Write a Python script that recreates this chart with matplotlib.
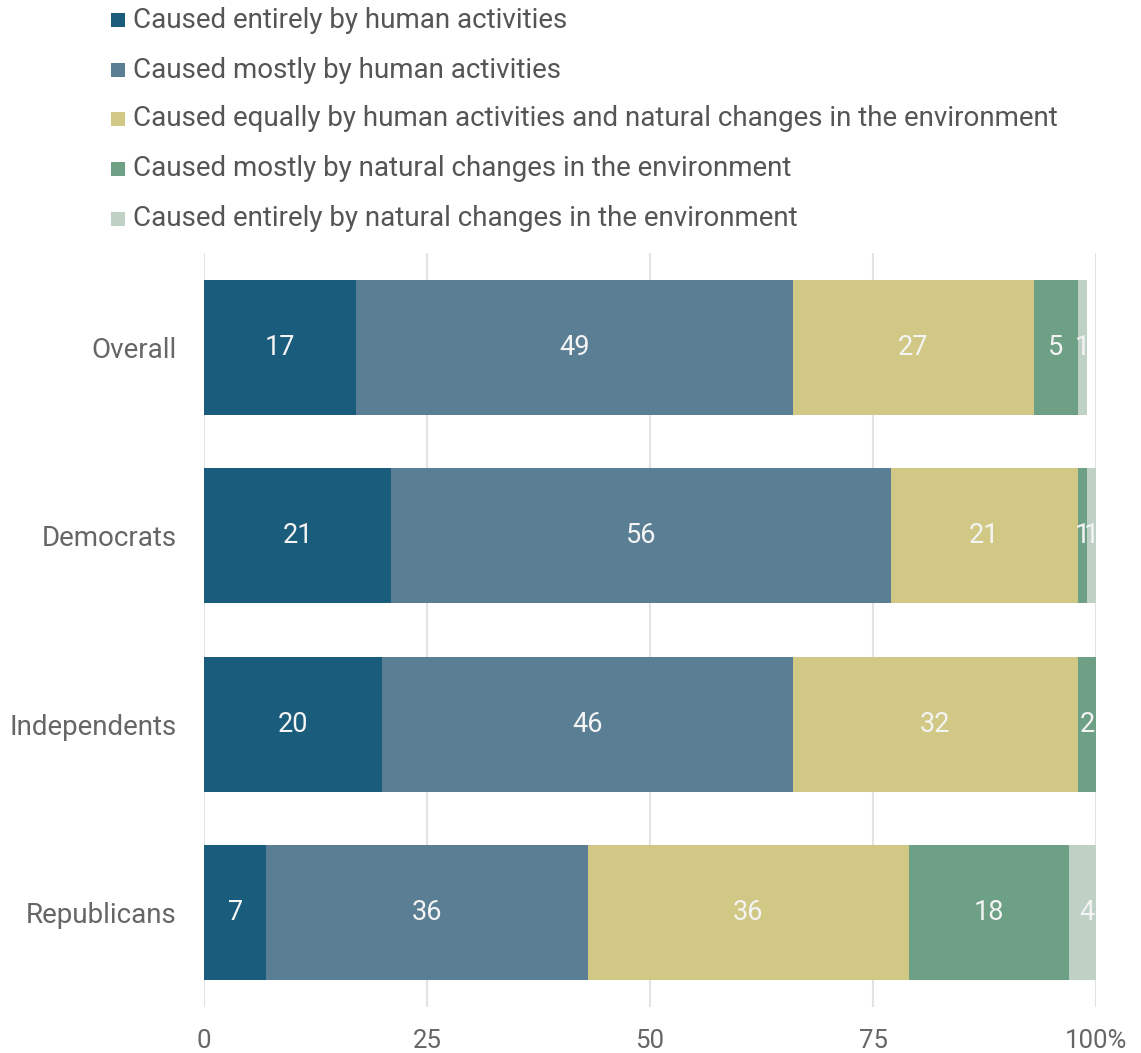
import matplotlib
matplotlib.use("Agg")
import matplotlib.pyplot as plt
from matplotlib.patches import Rectangle
import numpy as np

plt.rcParams['font.family'] = ['Roboto', 'DejaVu Sans']

categories = ["Overall", "Democrats", "Independents", "Republicans"]
series_names = [
    "Caused entirely by human activities",
    "Caused mostly by human activities",
    "Caused equally by human activities and natural changes in the environment",
    "Caused mostly by natural changes in the environment",
    "Caused entirely by natural changes in the environment",
]
entirely_human = [17, 21, 20, 7]
mostly_human = [49, 56, 46, 36]
equally = [27, 21, 32, 36]
mostly_natural = [5, 1, 2, 18]
entirely_natural = [1, 1, 0, 4]
xticks = [0, 25, 50, 75, 100]
xticklabels = ["0", "25", "50", "75", "100%"]

colors = ["#195c7b", "#5a7e94", "#d0c884", "#6da085", "#bfd0c5"]
series = [entirely_human, mostly_human, equally, mostly_natural, entirely_natural]

W, H = 1141, 1053
fig = plt.figure(figsize=(W / 100, H / 100), dpi=100)
ax = fig.add_axes([204 / W, (H - 1007) / H, (1096 - 204) / W, (1007 - 253) / H])

y = np.arange(len(categories))
left = np.zeros(len(categories))
text_gray = "#666666"
for vals, col in zip(series, colors):
    vals = np.array(vals, dtype=float)
    ax.barh(y, vals, left=left, height=0.716, color=col, edgecolor="none", zorder=2)
    for yi, (l, v) in enumerate(zip(left, vals)):
        if v > 0:
            ax.text(l + v / 2, yi, f"{int(v)}", ha="center", va="center",
                    color="#f4f4f4", fontsize=19.5, zorder=3)
    left += vals

ax.set_xlim(0, 100)
ax.set_ylim(len(categories) - 0.5, -0.5)
ax.set_yticks(y)
ax.set_yticklabels(categories, fontsize=20, color=text_gray)
ax.set_xticks(xticks)
ax.set_xticklabels(xticklabels, fontsize=18.5, color=text_gray)
ax.tick_params(axis="both", length=0)
ax.tick_params(axis="y", pad=19.5)
ax.tick_params(axis="x", pad=16)
ax.grid(axis="x", color="#e3e3e3", linewidth=1.5, zorder=0)
ax.set_axisbelow(True)
for s in ax.spines.values():
    s.set_visible(False)

# legend
row_centers = [20, 70, 119, 169, 219]
for name, col, yc in zip(series_names, colors, row_centers):
    fig.patches.append(Rectangle((111 / W, (H - yc - 7) / H), 14 / W, 14 / H,
                                 transform=fig.transFigure, facecolor=col,
                                 edgecolor="none"))
    fig.text(133 / W, (H - yc) / H, name, ha="left", va="center",
             fontsize=20, color="#555555")

fig.savefig("out.png", dpi=100)
